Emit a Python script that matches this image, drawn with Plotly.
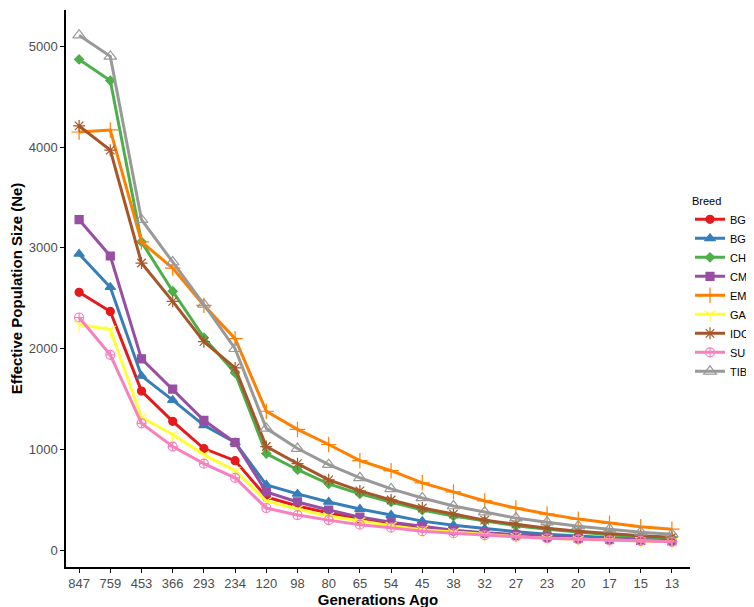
import plotly.graph_objects as go

generations = ["847","759","453","366","293","234","120","98","80","65","54","45","38","32","27","23","20","17","15","13"]
BGA = [2560,2370,1580,1280,1010,890,530,440,370,310,260,220,190,165,145,125,115,105,95,90]
BGE = [2940,2610,1730,1490,1240,1070,650,560,480,410,350,290,250,215,185,160,140,125,115,105]
CHA = [4870,4660,3060,2570,2110,1760,960,800,660,560,480,400,340,290,245,210,180,155,135,120]
CME = [3280,2920,1900,1600,1290,1070,580,480,400,330,280,240,200,175,155,135,120,110,100,95]
EMZ = [4150,4170,3060,2800,2430,2100,1380,1200,1050,890,790,670,580,490,420,360,310,270,235,210]
GAR = [2240,2190,1320,1150,950,790,490,410,340,290,245,205,180,155,135,120,110,100,95,85]
IDC = [4210,3970,2850,2470,2070,1810,1030,860,700,590,500,420,360,300,260,220,190,165,145,130]
SUF = [2310,1940,1260,1030,860,720,420,350,300,255,225,190,170,150,135,120,110,100,95,85]
TIB = [5110,4900,3280,2860,2440,2000,1210,1010,850,720,610,520,440,380,320,280,240,210,180,160]

series = [
    ("BGA", BGA, "#E41A1C", "circle", 8),
    ("BGE", BGE, "#377EB8", "triangle-up", 9),
    ("CHA", CHA, "#4DAF4A", "diamond", 7),
    ("CME", CME, "#984EA3", "square", 8),
    ("EMZ", EMZ, "#FF7F00", "cross-thin-open", 11),
    ("GAR", GAR, "#FFFF33", "y-down-open", 9),
    ("IDC", IDC, "#A65628", "asterisk-open", 10),
    ("SUF", SUF, "#F781BF", "circle-cross-open", 9),
    ("TIB", TIB, "#999999", "triangle-up-open", 11),
]

fig = go.Figure()
for name, vals, col, sym, sz in series:
    fig.add_trace(go.Scatter(x=generations, y=vals, name=name, mode="lines+markers",
                             line=dict(color=col, width=3),
                             marker=dict(symbol=sym, size=sz, color=col, line=dict(color=col, width=1.2))))

fig.update_layout(
    width=754, height=607, plot_bgcolor="white", paper_bgcolor="white",
    margin=dict(l=58, r=72, t=2, b=48),
    font=dict(family="Liberation Sans, Arial", size=13, color="#4d4d4d"),
    legend=dict(title=dict(text="Breed", font=dict(size=11, color="black")), x=1.0, xanchor="left",
                y=0.5, yanchor="middle", itemwidth=30,
                font=dict(size=11, color="black"), tracegroupgap=0),
    xaxis=dict(title=dict(text="<b>Generations Ago</b>", font=dict(size=15, color="black"), standoff=2),
               type="category", range=[-0.42, 19.58], showline=True, linecolor="black", linewidth=1.5,
               ticks="outside", ticklen=4, tickcolor="black", showgrid=False),
    yaxis=dict(title=dict(text="<b>Effective Population Size (Ne)</b>", font=dict(size=15, color="black"), standoff=6),
               range=[-165, 5360], tickvals=[0,1000,2000,3000,4000,5000], showline=True, linecolor="black",
               linewidth=1.5, ticks="outside", ticklen=4, tickcolor="black", showgrid=False, zeroline=False),
)
fig.write_html("out.html")
